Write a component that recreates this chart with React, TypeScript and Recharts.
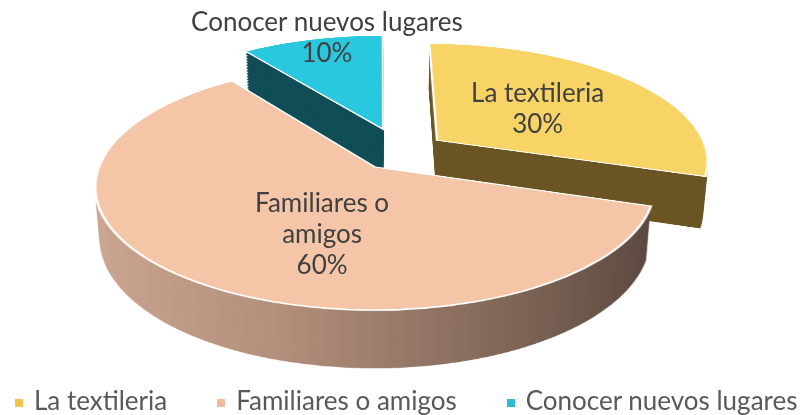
import React from 'react';
import { PieChart, Pie, Cell, Legend } from 'recharts';

// ---------- data ----------
const categories = ['La textileria', 'Familiares o amigos', 'Conocer nuevos lugares'];
const values = [30, 60, 10];
const topColors = ['#f8d466', '#f4c6a7', '#2ac8de'];
const sideColors = ['#6a5522', 'url(#pinkSide)', '#0f4d56'];
const legendColors = ['#f3c44c', '#efbc9d', '#2bbfd6'];

const data = categories.map((name, i) => ({ name, value: values[i] }));
const total = values.reduce((a, b) => a + b, 0);

// ---------- geometry / style ----------
const W = 801;
const H = 415;
const R = 276;
const PERSP = 1550;
const TILT = 64.2;
const X0 = 380;
const Y0 = 167;
const PLANE_H = 700;
const PLANE_OY = 400;
const BASE = { u: 21.2, v: -36.1 };
const EXPLODE = [46.8, 44.6, 58];
const DEPTH = 58;
const STEP = 2;
const DRAW_ORDER = [2, 0, 1];
const LABEL_R = [0.501, 0.541, 1.003];
const LABEL_SHIFT = [0, -17.2, 3.9];
const LABEL_WRAP = [0, 12, 0];
const LH = 31;

// mid angles (degrees clockwise from 12 o'clock) from values
const midCw: number[] = [];
{
  let acc = 0;
  values.forEach((v) => {
    midCw.push(((acc + v / 2) / total) * 360);
    acc += v;
  });
}
const centers = midCw.map((a, i) => {
  const r = (a * Math.PI) / 180;
  return { u: BASE.u + EXPLODE[i] * Math.sin(r), v: BASE.v - EXPLODE[i] * Math.cos(r) };
});

const project = (u: number, v: number) => {
  const t = (TILT * Math.PI) / 180;
  const f = PERSP / (PERSP - v * Math.sin(t));
  return { x: X0 + u * f, y: Y0 + v * Math.cos(t) * f };
};

const depths: number[] = [];
for (let d = DEPTH; d > 0; d -= STEP) depths.push(d);
depths.push(0);

const zero = { top: 0, right: 0, bottom: 0, left: 0 };

function Layer({ depth }: { depth: number }) {
  const isTop = depth === 0;
  return (
    <PieChart width={W} height={PLANE_H} margin={zero}>
      {DRAW_ORDER.map((i) => (
        <Pie
          key={i}
          data={data}
          dataKey="value"
          nameKey="name"
          cx={X0 + centers[i].u}
          cy={PLANE_OY + centers[i].v}
          innerRadius={0}
          outerRadius={R}
          startAngle={90}
          endAngle={-270}
          isAnimationActive={false}
          stroke="none"
          legendType="none"
        >
          {data.map((d, j) => (
            <Cell
              key={j}
              fill={j === i ? (isTop ? topColors[i] : sideColors[i]) : 'none'}
              stroke={j === i && isTop ? '#ffffff' : 'none'}
              strokeWidth={2.5}
            />
          ))}
        </Pie>
      ))}
    </PieChart>
  );
}

const labelLines = (i: number) => {
  const name = categories[i];
  const pct = Math.round((values[i] / total) * 100) + '%';
  const n = LABEL_WRAP[i];
  return n ? [name.slice(0, n).trim(), name.slice(n).trim(), pct] : [name, pct];
};

const renderLabel = (props: any) => {
  const { midAngle, index } = props;
  const cw = 90 - midAngle + LABEL_SHIFT[index];
  const rad = (cw * Math.PI) / 180;
  const r = LABEL_R[index] * R;
  const c = centers[index];
  const p = project(c.u + r * Math.sin(rad), c.v - r * Math.cos(rad));
  const lines = labelLines(index);
  const first = p.y + 9 - ((lines.length - 1) * LH) / 2;
  return (
    <text
      key={`lbl-${index}`}
      x={p.x}
      y={first}
      textAnchor="middle"
      fontFamily="Lato, 'Open Sans', sans-serif"
      fontSize={26}
      fill="#404040"
    >
      {lines.map((l, k) => (
        <tspan key={k} x={p.x} y={first + k * LH}>
          {l}
        </tspan>
      ))}
    </text>
  );
};

const renderLegend = (props: any) => {
  const payload = [...(props.payload || [])].sort(
    (a: any, b: any) => categories.indexOf(a.value) - categories.indexOf(b.value)
  );
  return (
    <div
      style={{
        display: 'flex',
        alignItems: 'center',
        paddingLeft: 15,
        fontFamily: "Lato, 'Open Sans', sans-serif",
        fontSize: 26,
        lineHeight: '28px',
        color: '#595959',
        whiteSpace: 'nowrap',
      }}
    >
      {payload.map((e: any, i: number) => {
        const idx = categories.indexOf(e.value);
        return (
          <div
            key={i}
            style={{
              display: 'flex',
              alignItems: 'center',
              flexShrink: 0,
              marginRight: i === payload.length - 1 ? 0 : 50,
            }}
          >
            <span
              style={{
                display: 'inline-block',
                width: 8,
                height: 8,
                position: 'relative',
                top: 3,
                background: legendColors[idx >= 0 ? idx : i],
                marginRight: 11,
              }}
            />
            <span>{e.value}</span>
          </div>
        );
      })}
    </div>
  );
};

function Overlay() {
  return (
    <PieChart width={W} height={H} margin={zero}>
      <Pie
        data={data}
        dataKey="value"
        nameKey="name"
        cx={X0}
        cy={Y0}
        outerRadius={1}
        startAngle={90}
        endAngle={-270}
        isAnimationActive={false}
        stroke="none"
        label={renderLabel}
        labelLine={false}
        legendType="square"
      >
        {data.map((d, i) => (
          <Cell key={i} fill={legendColors[i]} fillOpacity={0} />
        ))}
      </Pie>
      <Legend
        content={renderLegend}
        verticalAlign="top"
        align="left"
        wrapperStyle={{ top: 386, left: 0, width: W }}
      />
    </PieChart>
  );
}

export default function App() {
  return (
    <div
      style={{
        position: 'relative',
        width: W,
        height: H,
        overflow: 'hidden',
        background: '#ffffff',
        perspective: `${PERSP}px`,
        perspectiveOrigin: `${X0}px ${Y0}px`,
      }}
    >
      <style>{'body{margin:0}'}</style>
      <svg width={0} height={0} style={{ position: 'absolute' }}>
        <defs>
          <linearGradient id="pinkSide" gradientUnits="userSpaceOnUse" x1={98} y1={0} x2={662} y2={0}>
            <stop offset="0" stopColor="#cda792" />
            <stop offset="0.35" stopColor="#b28f7b" />
            <stop offset="0.7" stopColor="#7f6556" />
            <stop offset="1" stopColor="#54423a" />
          </linearGradient>
        </defs>
      </svg>
      <div
        style={{
          position: 'absolute',
          left: 0,
          top: Y0 - PLANE_OY,
          width: W,
          height: PLANE_H,
          transformStyle: 'preserve-3d',
          transformOrigin: `${X0}px ${PLANE_OY}px`,
          transform: `rotateX(${TILT}deg)`,
        }}
      >
        {depths.map((d) => (
          <div
            key={d}
            style={{
              position: 'absolute',
              left: 0,
              top: 0,
              width: W,
              height: PLANE_H,
              transform: `translateZ(${-d}px)`,
            }}
          >
            <Layer depth={d} />
          </div>
        ))}
      </div>
      <div style={{ position: 'absolute', left: 0, top: 0 }}>
        <Overlay />
      </div>
    </div>
  );
}
